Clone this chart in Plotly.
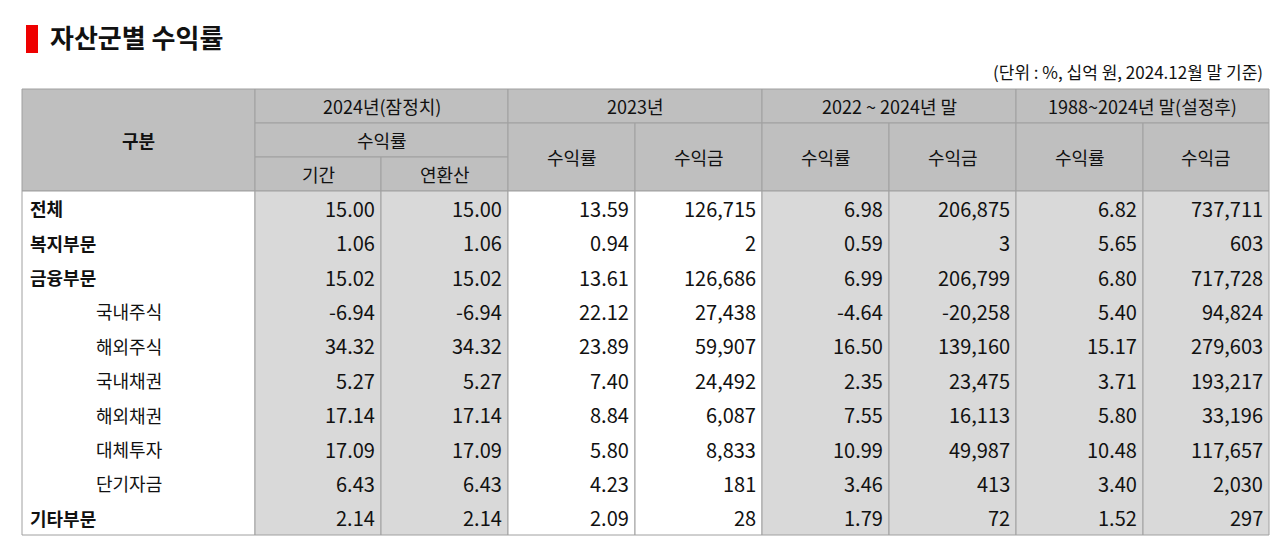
import plotly.graph_objects as go

rows = ["전체", "복지부문", "금융부문", "국내주식", "해외주식", "국내채권", "해외채권", "대체투자", "단기자금", "기타부문"]
indent = [False, False, False, True, True, True, True, True, True, False]
r2024_period = ["15.00", "1.06", "15.02", "-6.94", "34.32", "5.27", "17.14", "17.09", "6.43", "2.14"]
r2024_annual = ["15.00", "1.06", "15.02", "-6.94", "34.32", "5.27", "17.14", "17.09", "6.43", "2.14"]
r2023_rate = ["13.59", "0.94", "13.61", "22.12", "23.89", "7.40", "8.84", "5.80", "4.23", "2.09"]
r2023_amt = ["126,715", "2", "126,686", "27,438", "59,907", "24,492", "6,087", "8,833", "181", "28"]
r3y_rate = ["6.98", "0.59", "6.99", "-4.64", "16.50", "2.35", "7.55", "10.99", "3.46", "1.79"]
r3y_amt = ["206,875", "3", "206,799", "-20,258", "139,160", "23,475", "16,113", "49,987", "413", "72"]
rall_rate = ["6.82", "5.65", "6.80", "5.40", "15.17", "3.71", "5.80", "10.48", "3.40", "1.52"]
rall_amt = ["737,711", "603", "717,728", "94,824", "279,603", "193,217", "33,196", "117,657", "2,030", "297"]
cols = [r2024_period, r2024_annual, r2023_rate, r2023_amt, r3y_rate, r3y_amt, rall_rate, rall_amt]

title = "자산군별 수익률"
unit = "(단위 : %, 십억 원, 2024.12월 말 기준)"

xs = [14, 247, 373, 500, 627, 754, 881, 1008, 1135, 1261]
hy = [81, 115, 149, 183]
ybot = 527
rh = (ybot - hy[3]) / len(rows)
FONT = "Noto Sans CJK KR, Noto Sans, sans-serif"
HDR = "#bfbfbf"; LG = "#d9d9d9"; LINE = "#a0a0a0"
col_bg = [LG, LG, "white", "white", LG, LG, LG, LG]

shapes = []; ann = []
def rect(x0, y0, x1, y1, fill, lw=1):
    shapes.append(dict(type="rect", x0=x0, y0=y0, x1=x1, y1=y1, fillcolor=fill,
                       line=dict(color=LINE, width=lw), layer="below"))
def text(x, y, s, size=19, anchor="center", bold=False, color="#111"):
    ann.append(dict(x=x, y=y, text=("<b>%s</b>" % s) if bold else s, showarrow=False,
                    xanchor=anchor, yanchor="middle", font=dict(family=FONT, size=size, color=color)))

# header cells
rect(xs[0], hy[0], xs[1], hy[3], HDR); text((xs[0]+xs[1])/2, (hy[0]+hy[3])/2, "구분", 18, bold=True)
groups = [("2024년(잠정치)", 1, 3), ("2023년", 3, 5), ("2022 ~ 2024년 말", 5, 7), ("1988~2024년 말(설정후)", 7, 9)]
for g, a, b in groups:
    rect(xs[a], hy[0], xs[b], hy[1], HDR); text((xs[a]+xs[b])/2, (hy[0]+hy[1])/2, g, 18)
rect(xs[1], hy[1], xs[3], hy[2], HDR); text((xs[1]+xs[3])/2, (hy[1]+hy[2])/2, "수익률", 18)
for i, s in [(1, "기간"), (2, "연환산")]:
    rect(xs[i], hy[2], xs[i+1], hy[3], HDR); text((xs[i]+xs[i+1])/2, (hy[2]+hy[3])/2, s, 18)
for i in range(3, 9):
    s = "수익률" if i % 2 == 1 else "수익금"
    rect(xs[i], hy[1], xs[i+1], hy[3], HDR); text((xs[i]+xs[i+1])/2, (hy[1]+hy[3])/2, s, 18)

# body columns
rect(xs[0], hy[3], xs[1], ybot, "white")
for j in range(8):
    rect(xs[j+1], hy[3], xs[j+2], ybot, col_bg[j])
for r, name in enumerate(rows):
    yc = hy[3] + rh*(r+0.5)
    if indent[r]:
        text(86, yc, name, 18, anchor="left")
    else:
        text(20, yc, name, 18, anchor="left", bold=True)
    for j in range(8):
        text(xs[j+2]-4, yc, cols[j][r], 20, anchor="right")

# title & unit
shapes.append(dict(type="rect", x0=18, y0=17, x1=30, y1=45, fillcolor="#ee0000", line=dict(width=0)))
text(40, 28, title, 26, anchor="left", bold=True)
text(1257, 63, unit, 17, anchor="right")

fig = go.Figure()
fig.update_layout(width=1280, height=542, margin=dict(l=0, r=0, t=0, b=0),
                  paper_bgcolor="white", plot_bgcolor="white",
                  xaxis=dict(range=[0, 1280], visible=False, fixedrange=True),
                  yaxis=dict(range=[542, 0], visible=False, fixedrange=True),
                  shapes=shapes, annotations=ann, showlegend=False)
fig.write_html("out.html")
